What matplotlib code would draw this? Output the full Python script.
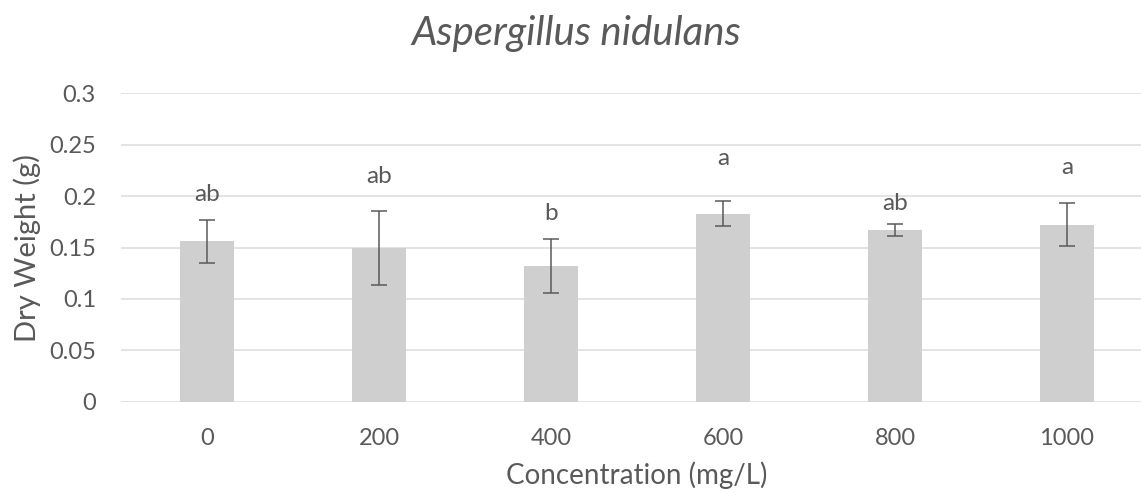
import matplotlib.pyplot as plt
import numpy as np

# Data
concentrations = ['0', '200', '400', '600', '800', '1000']
dry_weight = [0.156, 0.150, 0.132, 0.183, 0.167, 0.172]
std_err = [0.021, 0.036, 0.026, 0.012, 0.0056, 0.021]
letters = ['ab', 'ab', 'b', 'a', 'ab', 'a']
letter_y = [0.1956, 0.2125, 0.1768, 0.2303, 0.1865, 0.2212]

plt.rcParams['font.family'] = ['Lato', 'DejaVu Sans']
text_color = '#595959'

fig = plt.figure(figsize=(11.41, 4.93), dpi=100)
ax = fig.add_axes([0.106, 0.1852, 0.9045, 0.6255])

x = np.arange(len(concentrations))
ax.bar(x, dry_weight, width=0.31, color='#d0cfd0', zorder=2)
ax.errorbar(x, dry_weight, yerr=std_err, fmt='none', ecolor='#5a5a5a',
            elinewidth=1.1, capsize=6, capthick=1.1, zorder=3)

# significance letters above each bar
for xi, lab, ly in zip(x, letters, letter_y):
    ax.text(xi, ly, lab, ha='center', va='baseline', fontsize=17.5, color=text_color)

ax.set_xlim(-0.5, len(concentrations) - 0.5)
ax.set_ylim(0, 0.3)
ax.set_yticks(np.arange(0, 0.31, 0.05))
ax.set_yticklabels(['0', '0.05', '0.1', '0.15', '0.2', '0.25', '0.3'])
ax.set_xticks(x)
ax.set_xticklabels(concentrations)
ax.tick_params(length=0, labelsize=17, colors=text_color)
ax.tick_params(axis='x', pad=19)
ax.tick_params(axis='y', pad=18)

ax.grid(axis='y', color='#dedede', linewidth=1.2, zorder=0)
ax.set_axisbelow(True)
for side in ['top', 'right', 'left', 'bottom']:
    ax.spines[side].set_visible(False)

ax.set_xlabel('Concentration (mg/L)', fontsize=20, color=text_color, labelpad=9)
ax.set_ylabel('Dry Weight (g)', fontsize=21, color=text_color, labelpad=6)
fig.text(0.505, 0.909, 'Aspergillus nidulans', ha='center', va='baseline',
         fontsize=29, style='italic', color=text_color)

fig.savefig('out.png', dpi=100)
